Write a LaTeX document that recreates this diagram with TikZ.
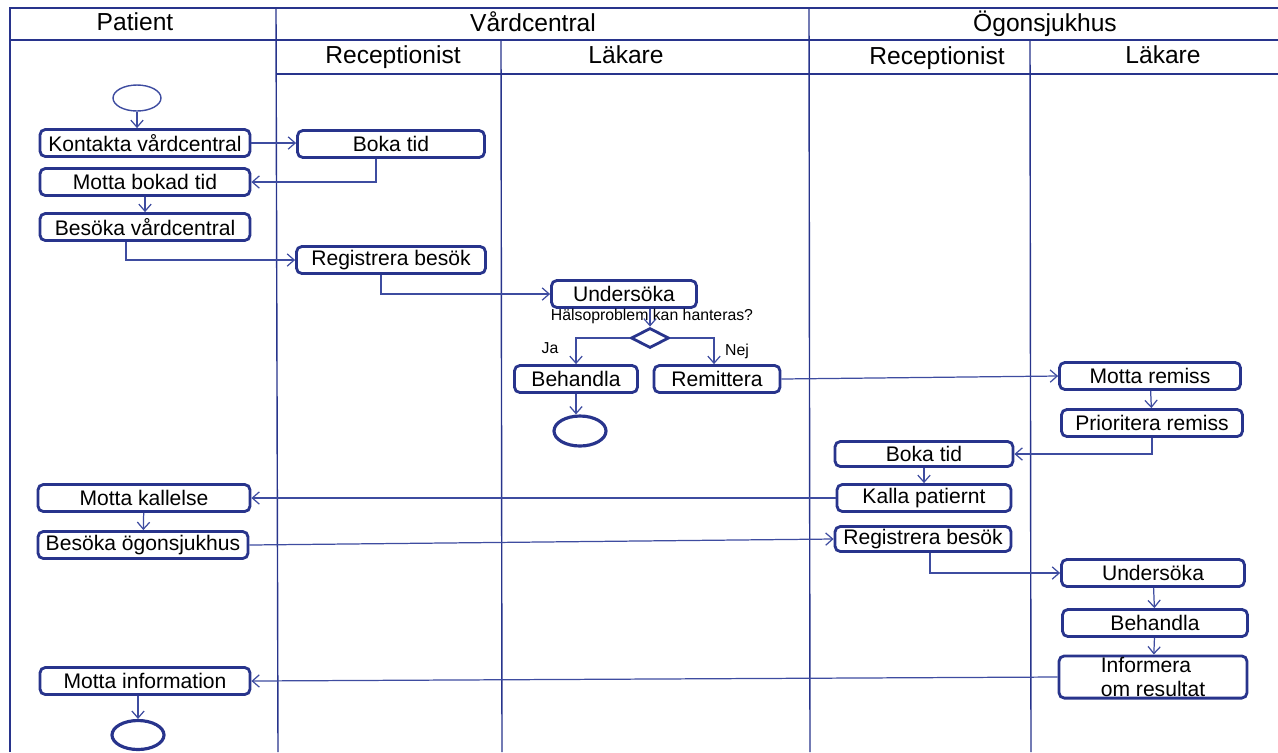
\documentclass[tikz,border=0pt]{standalone}
\usepackage{fontspec}
\setmainfont{Liberation Sans}
\usepackage{xcolor}
\usetikzlibrary{shapes.geometric,arrows.meta}
\definecolor{boxblue}{RGB}{40,52,140}
\definecolor{lineblue}{RGB}{62,76,160}

\begin{document}
\begin{tikzpicture}[x=0.02cm, y=-0.02cm,
	lane/.style={color=boxblue, line width=0.8pt},
	head/.style={font=\fontsize{14}{16}\selectfont},
	act/.style={draw=boxblue, line width=1.6pt, rounded corners=3pt, fill=white,
		minimum height=0.54cm, inner xsep=2pt, inner ysep=1pt, font=\fontsize{12}{13.5}\selectfont},
	flow/.style={color=lineblue, line width=0.7pt, -{Straight Barb[length=4pt,width=7pt]}},
	small/.style={font=\fontsize{9}{10}\selectfont}]
	\useasboundingbox (0,0) rectangle (1278,752);
	% swimlanes
	\draw[lane] (10,752) -- (10,8) -- (1278,8);
	\draw[lane] (10,40) -- (1278,40);
	\draw[lane] (276,74) -- (1278,74);
	\draw[lane] (276,8) -- (278,752);
	\draw[lane] (501,40) -- (502,752);
	\draw[lane] (809,8) -- (810,752);
	\draw[lane] (1030,40) -- (1031,752);
	\node[head] (hpat) at (135,22) {Patient};
	\node[head] (hvc) at (533,22) {Vårdcentral};
	\node[head] (hog) at (1045,24) {Ögonsjukhus};
	\node[head] (hrec1) at (393,57) {Receptionist};
	\node[head] (hlak1) at (626,55) {Läkare};
	\node[head] (hrec2) at (937,58) {Receptionist};
	\node[head] (hlak2) at (1163,55) {Läkare};
	% patient
	\node[draw=lineblue, line width=0.8pt, ellipse, minimum width=0.96cm, minimum height=0.52cm, inner sep=0] (start) at (137,98) {};
	\node[act, minimum width=4.2cm] (kontakta) at (145,143) {Kontakta vårdcentral};
	\node[act, minimum width=4.2cm] (mottabokad) at (145,182) {Motta bokad tid};
	\node[act, minimum width=4.2cm] (besokavc) at (145,227) {Besöka vårdcentral};
	\node[act, minimum width=4.24cm] (mottakallelse) at (144,498) {Motta kallelse};
	\node[act, minimum width=4.2cm] (besokaog) at (143,545) {Besöka ögonsjukhus};
	\node[act, minimum width=4.2cm] (mottainfo) at (145,681) {Motta information};
	\node[draw=boxblue, line width=1.8pt, ellipse, minimum width=1.04cm, minimum height=0.58cm, inner sep=0] (slut2) at (138,735) {};
	% vardcentral
	\node[act, minimum width=3.74cm] (bokatid1) at (391,144) {Boka tid};
	\node[act, minimum width=3.78cm] (registrera1) at (391,260) {Registrera besök};
	\node[act, minimum width=2.9cm] (undersoka1) at (624,294) {Undersöka};
	\node[small] (fraga) at (652,316) {Hälsoproblem kan hanteras?};
	\node[draw=boxblue, line width=1.6pt, diamond, fill=white, minimum width=0.76cm, minimum height=0.4cm, inner sep=0] (val) at (650,338) {};
	\node[small] (ja) at (550,348) {Ja};
	\node[small] (nej) at (737,351) {Nej};
	\node[act, minimum width=2.46cm] (behandla1) at (576,379) {Behandla};
	\node[act, minimum width=2.52cm] (remittera) at (717,379) {Remittera};
	\node[draw=boxblue, line width=1.8pt, ellipse, minimum width=1.04cm, minimum height=0.6cm, inner sep=0] (slut1) at (580,431) {};
	% ogonsjukhus
	\node[act, minimum width=3.62cm] (mottaremiss) at (1150,376) {Motta remiss};
	\node[act, minimum width=3.62cm] (prioritera) at (1152,423) {Prioritera remiss};
	\node[act, minimum width=3.56cm, minimum height=0.5cm] (bokatid2) at (924,454) {Boka tid};
	\node[act, minimum width=3.48cm] (kalla) at (924,498) {Kalla patiernt};
	\node[act, minimum width=3.52cm, minimum height=0.5cm] (registrera2) at (923,539) {Registrera besök};
	\node[act, minimum width=3.66cm] (undersoka2) at (1153,573) {Undersöka};
	\node[act, minimum width=3.7cm] (behandla2) at (1155,623) {Behandla};
	\node[act, minimum width=3.76cm, minimum height=0.8cm, align=left, font=\fontsize{12}{13.2}\selectfont] (informera) at (1153,677) {Informera\\om resultat};
	% flows
	\draw[flow] (start) -- (start |- kontakta.north);
	\draw[flow] (kontakta.east) -- (bokatid1.west |- kontakta.east);
	\draw[flow] ([xshift=-0.3cm]bokatid1.south) |- (mottabokad.east);
	\draw[flow] (mottabokad) -- (besokavc);
	\draw[flow] ([xshift=-0.38cm]besokavc.south) |- (registrera1.west);
	\draw[flow] ([xshift=-0.2cm]registrera1.south) |- (undersoka1.west);
	\draw[flow] (undersoka1.south -| val.north) -- (val.north);
	\draw[flow] (val.west) -| (behandla1.north);
	\draw[flow] (val.east) -| ([xshift=-0.06cm]remittera.north);
	\draw[flow] (behandla1.south) -- (behandla1.south |- slut1.north);
	\draw[flow] (remittera.east) -- (mottaremiss.west);
	\draw[flow] (mottaremiss) -- (prioritera);
	\draw[flow] (prioritera.south) |- (bokatid2.east);
	\draw[flow] (bokatid2) -- (kalla);
	\draw[flow] (kalla.west) -- (mottakallelse.east);
	\draw[flow] (mottakallelse) -- (besokaog);
	\draw[flow] (besokaog.east) -- (registrera2.west);
	\draw[flow] ([xshift=0.14cm]registrera2.south) |- (undersoka2.west);
	\draw[flow] (undersoka2) -- (behandla2);
	\draw[flow] (behandla2) -- (informera);
	\draw[flow] (informera.west) -- (mottainfo.east);
	\draw[flow] (mottainfo.south -| slut2.north) -- (slut2.north);
\end{tikzpicture}
\end{document}
